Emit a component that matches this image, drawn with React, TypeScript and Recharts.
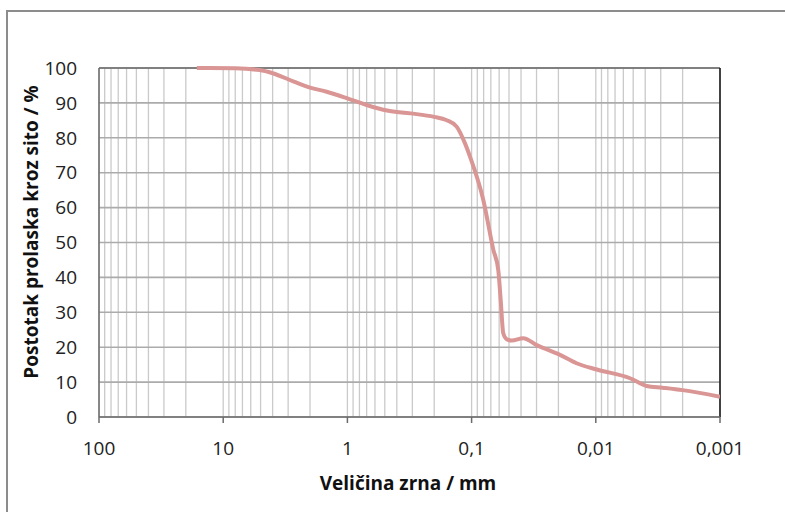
import { LineChart, Line, XAxis, YAxis, CartesianGrid, ReferenceLine } from 'recharts';

// grain size (mm) and percent passing
const grainSize = [
  16.3, 8, 5.1, 4.0, 2.7, 2.0, 1.47, 1.0, 0.7, 0.48, 0.31, 0.2, 0.16, 0.132, 0.113, 0.103, 0.0805, 0.0668,
  0.061, 0.0583, 0.0556, 0.0522, 0.0475, 0.0384, 0.0299, 0.0194, 0.0143, 0.0098, 0.0053, 0.0039, 0.0029,
  0.002, 0.001,
];
const passing = [
  100, 99.9, 99.4, 98.5, 96.1, 94.4, 93.2, 91.3, 89.4, 87.8, 87.0, 86.0, 85.1, 83.2, 78.4, 74.6, 62.2, 47.9,
  42.1, 33.5, 24, 22.3, 21.9, 22.6, 20.6, 17.8, 15.4, 13.6, 11.1, 8.9, 8.4, 7.7, 5.8,
];

const decades = [100, 10, 1, 0.1, 0.01, 0.001];
const decadeLabels = ['100', '10', '1', '0,1', '0,01', '0,001'];
const yTicks = [0, 10, 20, 30, 40, 50, 60, 70, 80, 90, 100];

const data = grainSize.map((d, i) => ({ d, p: passing[i] }));

// log grid: 1..9 x each decade
const gridValues: number[] = [];
decades.slice(1).forEach((dec) => {
  for (let m = 1; m < 10; m++) gridValues.push(m * dec);
});
gridValues.push(100);

const FONT = '"Open Sans", Lato, sans-serif';

const XTick = (props: any) => {
  const { x, y, payload } = props;
  const idx = decades.findIndex((d) => Math.abs(d - payload.value) / d < 1e-6);
  if (idx < 0) return null;
  return (
    <g>
      <line x1={x} x2={x} y1={y} y2={y + 6} stroke="#6b6b6b" strokeWidth={1.5} />
      <text x={x} y={y + 31} textAnchor="middle" dominantBaseline="central" fontSize={19} fill="#222" fontFamily={FONT}>
        {decadeLabels[idx]}
      </text>
    </g>
  );
};

export default function App() {
  return (
    <div style={{ position: 'absolute', left: 0, top: 0, width: 785, height: 512, overflow: 'hidden', background: '#fff' }}>
      <div
        style={{
          position: 'absolute',
          left: 6,
          top: 10,
          width: 820,
          height: 560,
          border: '2px solid #8c8c8c',
        }}
      />
      <div style={{ position: 'absolute', left: 0, top: 0 }}>
        <LineChart width={785} height={512} data={data} margin={{ top: 68, right: 65, bottom: 0, left: 0 }}>
          <CartesianGrid horizontal={false} vertical stroke="#cacaca" strokeWidth={1.3} />
          <CartesianGrid horizontal vertical={false} stroke="#ababab" strokeWidth={1.6} />
          <XAxis
            dataKey="d"
            type="number"
            scale="log"
            domain={[0.001, 100]}
            reversed
            ticks={gridValues}
            interval={0}
            allowDataOverflow
            height={95}
            tickSize={0}
            tickMargin={0}
            tick={<XTick />}
            axisLine={{ stroke: '#6b6b6b', strokeWidth: 1.5 }}
          />
          <YAxis
            type="number"
            domain={[0, 100]}
            ticks={yTicks}
            interval={0}
            width={99}
            tickSize={0}
            tickMargin={22}
            tickLine={false}
            tick={{ fontSize: 19, fill: '#222', fontFamily: FONT }}
            axisLine={{ stroke: '#6b6b6b', strokeWidth: 1.5 }}
          />
          <ReferenceLine y={100} stroke="#6b6b6b" strokeWidth={1.5} />
          <ReferenceLine x={0.001} stroke="#111" strokeWidth={1.5} />
          <Line
            type="monotone"
            dataKey="p"
            stroke="#d99694"
            strokeWidth={4}
            dot={false}
            isAnimationActive={false}
          />
        </LineChart>
      </div>
      <div
        style={{
          position: 'absolute',
          left: 408,
          top: 483,
          transform: 'translate(-50%, -50%)',
          whiteSpace: 'nowrap',
          fontFamily: FONT,
          fontWeight: 700,
          fontSize: 19,
          color: '#111',
        }}
      >
        Veličina zrna / mm
      </div>
      <div
        style={{
          position: 'absolute',
          left: 31,
          top: 232,
          transform: 'translate(-50%, -50%) rotate(-90deg)',
          whiteSpace: 'nowrap',
          fontFamily: FONT,
          fontWeight: 700,
          fontSize: 19,
          color: '#111',
        }}
      >
        Postotak prolaska kroz sito / %
      </div>
    </div>
  );
}
